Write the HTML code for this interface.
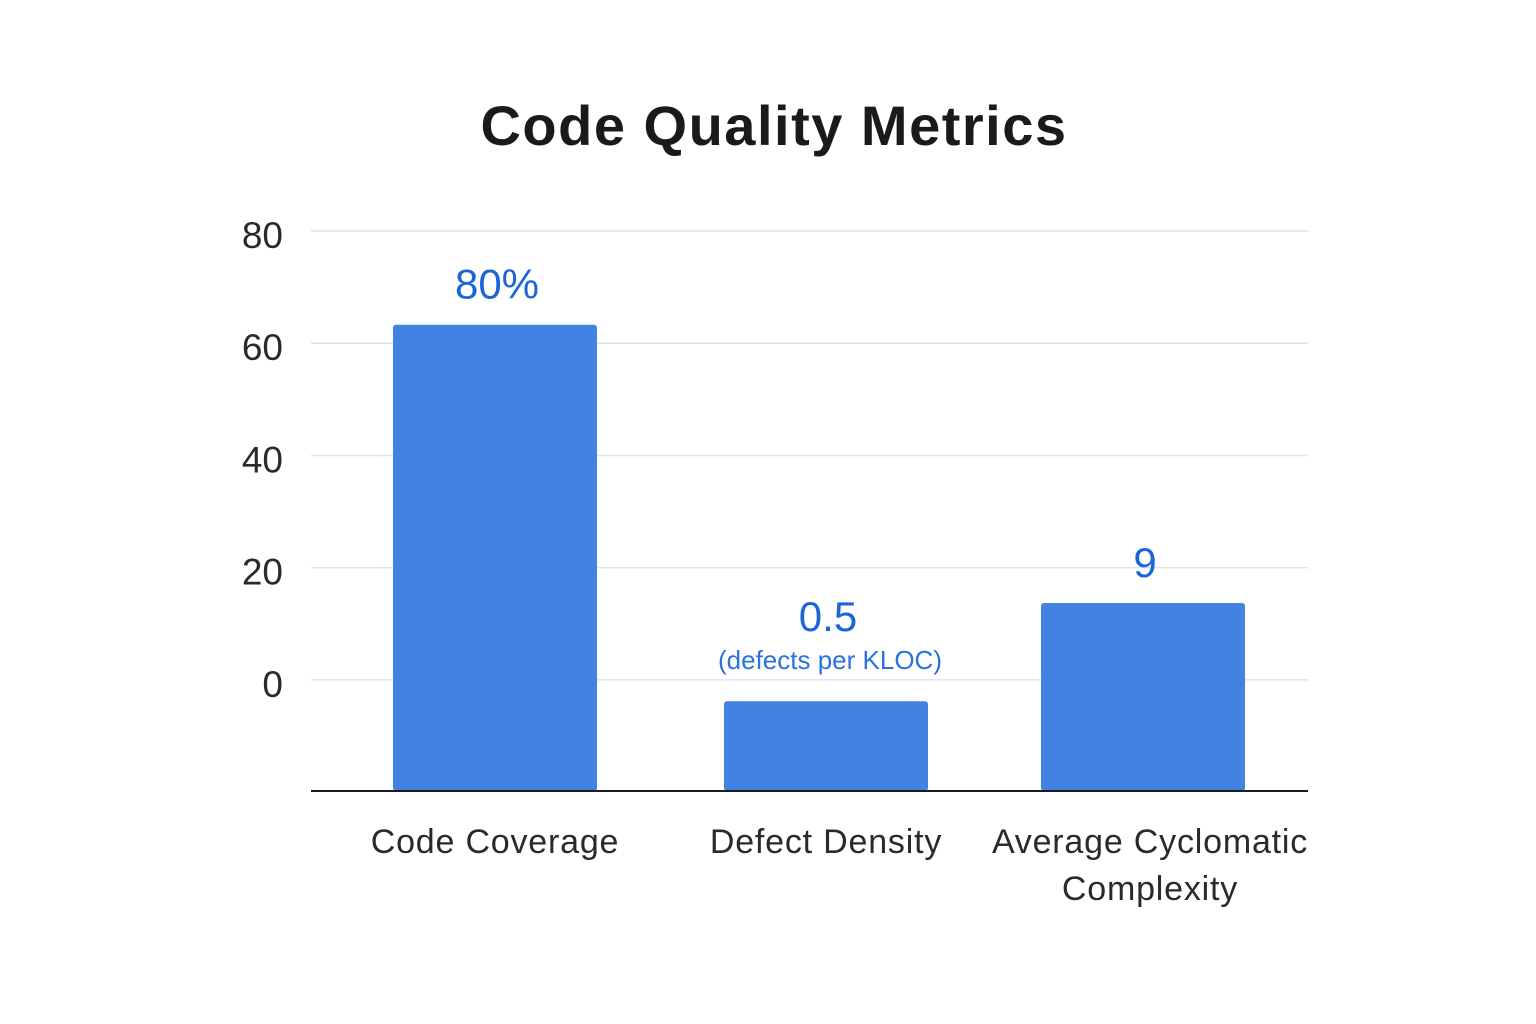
<!DOCTYPE html>
<html><head><meta charset="utf-8"><style>
html,body{margin:0;padding:0;background:#fff;}
svg{display:block;font-family:"Liberation Sans","DejaVu Sans",sans-serif;}
</style></head><body>
<svg id="chart" width="1536" height="1024">
<text x="774" y="145" text-anchor="middle" font-size="56" font-weight="bold" letter-spacing="1.5" fill="#1a1a1a">Code Quality Metrics</text>
<g id="grid"></g><g id="bars"></g><g id="labels"></g>
</svg>
<script>
const categories = [["Code Coverage"], ["Defect Density"], ["Average Cyclomatic", "Complexity"]];
const values = [63.3, -3.8, 13.7];
const valueLabels = ["80%", "0.5", "9"];
const subLabels = ["", "(defects per KLOC)", ""];
const ticks = [0, 20, 40, 60, 80];
const NS = "http://www.w3.org/2000/svg";
const yMin = -19.8, yMax = 80, plotTop = 231, plotBottom = 791, left = 311, right = 1308;
function y(v){ return plotBottom - (v - yMin) / (yMax - yMin) * (plotBottom - plotTop); }
const centers = [495, 826, 1143], barW = 204;
function x(i){ return centers[i]; }
function mk(tag, attrs, parent, text){
  const e = document.createElementNS(NS, tag);
  for (const k in attrs) e.setAttribute(k, attrs[k]);
  if (text !== undefined) e.textContent = text;
  parent.appendChild(e); return e;
}
const grid = document.getElementById("grid");
ticks.forEach(t => {
  const l = mk("line", {x1: left, x2: right, y1: y(t), y2: y(t), stroke: "#e3e3e3", "stroke-width": 1.5}, grid);
  
  
  const tx = mk("text", {x: 283, y: y(t) + 17, "text-anchor": "end", "font-size": 37, fill: "#2a2a2a"}, grid, String(t));
  
  
});
const bars = document.getElementById("bars");
const labels = document.getElementById("labels");
values.forEach((v, i) => {
  const top = y(v);
  const r = mk("rect", {x: x(i) - barW/2, y: top, width: barW, height: plotBottom - top, rx: 3, fill: "#4282e0"}, bars);
  
  
  const hasSub = subLabels[i] !== "";
  const vt = mk("text", {x: x(i) + 2, y: top - (hasSub ? 70 : 26), "text-anchor": "middle", "font-size": 42, fill: "#1a66d9"}, labels, valueLabels[i]);
  
  
  if (hasSub) {
    const st = mk("text", {x: x(i) + 4, y: top - 32, "text-anchor": "middle", "font-size": 26, fill: "#2a72e0"}, labels, subLabels[i]);
    
    
  }
  categories[i].forEach((line, j) => {
    const ct = mk("text", {x: x(i) + (categories[i].length > 1 ? 7 : 0), y: 853 + j * 47, "text-anchor": "middle", "font-size": 34, "letter-spacing": 0.8, fill: "#2a2a2a"}, labels, line);
    
    
  });
});
const ax = mk("line", {x1: left, x2: right, y1: plotBottom, y2: plotBottom, stroke: "#1a1a1a", "stroke-width": 2}, labels);


</script>
</body></html>
